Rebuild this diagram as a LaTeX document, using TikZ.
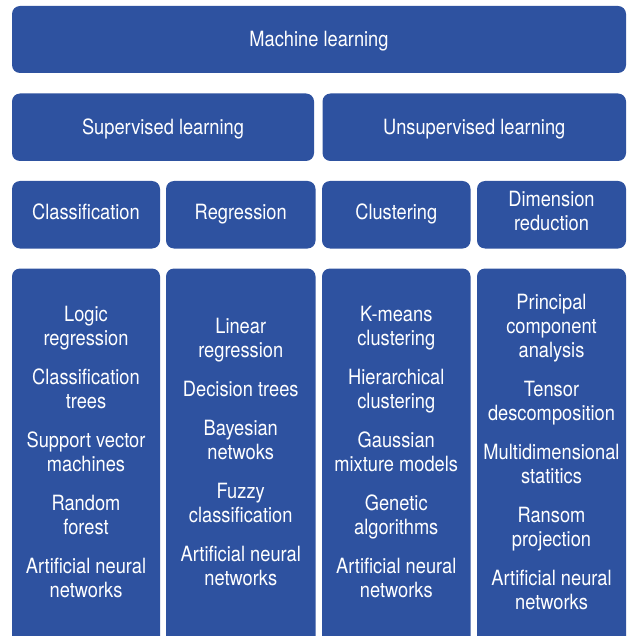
\documentclass[tikz,border=0pt]{standalone}
\usepackage{fontspec}
\setmainfont{TeX Gyre Heros}[FakeStretch=0.87]
\definecolor{mlblue}{RGB}{46,82,160}

\begin{document}
\begin{tikzpicture}[x=1pt,y=-1pt,
bx/.style = {fill=mlblue,rounded corners=8pt,inner sep=0pt,text=white,align=center,
             font=\fontsize{21}{24}\selectfont},
hd/.style = {text height=15pt,text depth=0pt},
hdt/.style = {text height=16pt,text depth=7pt},
lst/.style = {text=white,align=center,inner sep=0pt,font=\fontsize{21}{24}\selectfont}
]
  \clip (0,0) rectangle (627,636);

  % top level
  \node[bx,hd,minimum width=614pt,minimum height=67pt] (ml) at (319,39.5) {Machine learning};

  % learning types
  \node[bx,hd,minimum width=302pt,minimum height=67.5pt] (sup) at (163,127.25) {Supervised learning};
  \node[bx,hd,minimum width=303.5pt,minimum height=67.5pt] (unsup) at (474.25,127.25) {Unsupervised learning};

  % tasks
  \node[bx,hdt,minimum width=148pt,minimum height=67.5pt] (cls) at (86,214.75) {Classification};
  \node[bx,hdt,minimum width=149.5pt,minimum height=67.5pt] (reg) at (240.75,214.75) {Regression};
  \node[bx,hdt,minimum width=148.5pt,minimum height=67.5pt] (clu) at (396.25,214.75) {Clustering};
  \node[bx,minimum width=149pt,minimum height=67.5pt] (dim) at (551.5,214.75) {};
  \node[lst] (dimtxt) at (551.5,211.25) {Dimension\\reduction};

  % method columns, running off the bottom
  \node[bx,minimum width=148pt,minimum height=420pt,anchor=north] (clsbox) at (86,268.3) {};
  \node[bx,minimum width=149.5pt,minimum height=420pt,anchor=north] (regbox) at (240.75,268.3) {};
  \node[bx,minimum width=148.5pt,minimum height=420pt,anchor=north] (clubox) at (396.25,268.3) {};
  \node[bx,minimum width=149pt,minimum height=420pt,anchor=north] (dimbox) at (551.5,268.3) {};

  \node[lst] (clslist) at (86,452) {Logic\\regression\\[15pt]Classification\\trees\\[15pt]%
    Support vector\\machines\\[15pt]Random\\forest\\[15pt]Artificial neural\\networks};
  \node[lst] (reglist) at (240.75,452) {Linear\\regression\\[15pt]Decision trees\\[15pt]%
    Bayesian\\netwoks\\[15pt]Fuzzy\\classification\\[15pt]Artificial neural\\networks};
  \node[lst] (clulist) at (396.25,452) {K-means\\clustering\\[15pt]Hierarchical\\clustering\\[15pt]%
    Gaussian\\mixture models\\[15pt]Genetic\\algorithms\\[15pt]Artificial neural\\networks};
  \node[lst] (dimlist) at (551.5,452) {Principal\\component\\analysis\\[15pt]Tensor\\descomposition\\[15pt]%
    Multidimensional\\statitics\\[15pt]Ransom\\projection\\[15pt]Artificial neural\\networks};
\end{tikzpicture}
\end{document}
